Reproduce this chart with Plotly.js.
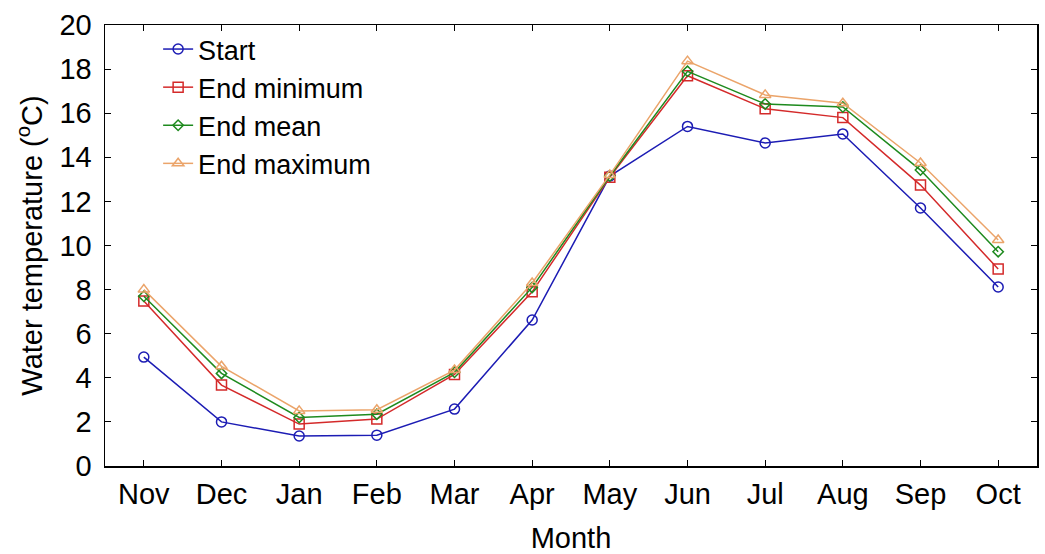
<!DOCTYPE html>
<html><head><meta charset="utf-8">
<script src="https://cdn.plot.ly/plotly-3.0.1.min.js"></script>
<style>html,body{margin:0;padding:0;background:#fff}#chart{width:1045px;height:554px}</style>
</head><body><div id="chart"></div>
<script>
const months = ["Nov","Dec","Jan","Feb","Mar","Apr","May","Jun","Jul","Aug","Sep","Oct"];
const startVals = [4.94,2.0,1.36,1.4,2.58,6.62,13.15,15.4,14.65,15.06,11.7,8.12];
const endMin = [7.48,3.67,1.9,2.13,4.15,7.9,13.1,17.7,16.2,15.8,12.74,8.93];
const endMean = [7.7,4.2,2.2,2.35,4.25,8.1,13.15,17.9,16.42,16.28,13.42,9.72];
const endMax = [8.0,4.52,2.5,2.55,4.35,8.3,13.2,18.36,16.83,16.45,13.74,10.25];
const names = ["Start","End minimum","End mean","End maximum"];
const colors = ["#1c1cb4","#d42a2a","#1e8a1e","#eba46a"];
const symbols = ["circle-open","square-open","diamond-open","triangle-up-open"];
const series = [startVals,endMin,endMean,endMax];
const traces = series.map((v,i)=>({
  x: months, y: v, name: names[i], type:"scatter", mode:"lines+markers",
  line:{color:colors[i], width:1.5},
  marker:{symbol:symbols[i], size: i===2?8:10, color:colors[i], line:{color:colors[i], width:1.5}}
}));
const ff = "Liberation Sans, Arial, sans-serif";
const fs = 29;
Plotly.newPlot("chart", traces, {
  width:1045, height:554,
  margin:{l:105, r:8, t:25, b:88},
  paper_bgcolor:"#fff", plot_bgcolor:"#fff",
  font: {family:ff, color:"#000", size:fs},
  showlegend:true,
  legend:{x:0.057, y:1.0, xanchor:"left", yanchor:"top", bgcolor:"rgba(0,0,0,0)", font:{family:ff, size:27, color:"#000"}, tracegroupgap:0},
  xaxis:{type:"category", range:[-0.5,11.5], showline:true, linecolor:"#000", linewidth:1.5, mirror:"ticks",
    ticks:"inside", ticklen:6, tickcolor:"#000", showgrid:false, zeroline:false, ticklabelstandoff:2,
    tickfont:{family:ff, size:fs, color:"#000"},
    title:{text:"Month", font:{family:ff, size:fs, color:"#000"}, standoff:20}},
  yaxis:{range:[0,20], dtick:2, showline:true, linecolor:"#000", linewidth:1.5, mirror:"ticks",
    ticks:"inside", ticklen:6, tickcolor:"#000", showgrid:false, zeroline:false, ticklabelstandoff:6,
    tickfont:{family:ff, size:fs, color:"#000"},
    title:{text:"Water temperature (<sup>o</sup>C)", font:{family:ff, size:fs, color:"#000"}, standoff:8}}
}, {displayModeBar:false, staticPlot:true});
</script></body></html>
